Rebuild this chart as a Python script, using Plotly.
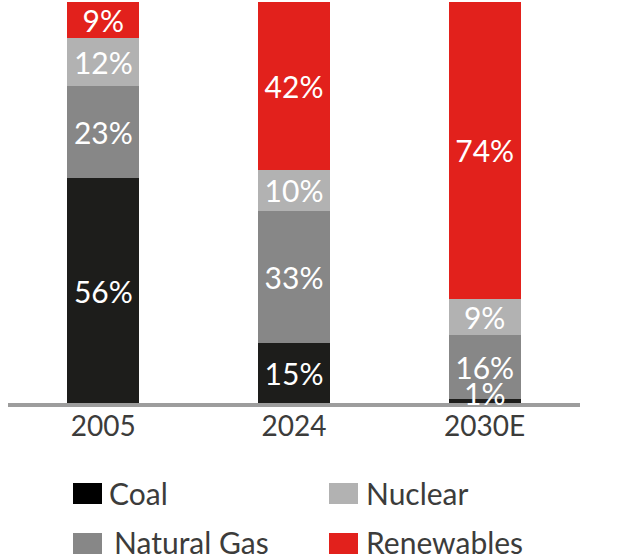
import plotly.graph_objects as go

categories = ["2005", "2024", "2030E"]
series_names = ["Coal", "Natural Gas", "Nuclear", "Renewables"]
coal = [56, 15, 1]
natural_gas = [23, 33, 16]
nuclear = [12, 10, 9]
renewables = [9, 42, 74]

colors = {"Coal": "#1d1d1b", "Natural Gas": "#878787", "Nuclear": "#b2b2b2", "Renewables": "#e2211c"}
legend_colors = {"Coal": "#000000", "Natural Gas": "#878787", "Nuclear": "#b2b2b2", "Renewables": "#e2211c"}
values = {"Coal": coal, "Natural Gas": natural_gas, "Nuclear": nuclear, "Renewables": renewables}

FONT = "Lato"
fig = go.Figure()
small_labels = []
for name in series_names:
    vals = values[name]
    texts = []
    for c, v in zip(categories, vals):
        if v < 5:
            texts.append("")
            small_labels.append((c, v))
        else:
            texts.append(f"{v}%")
    fig.add_trace(go.Bar(
        x=categories, y=vals, name=name,
        marker=dict(color=colors[name], line=dict(width=0)),
        text=texts, textposition="inside", insidetextanchor="middle",
        textangle=0, constraintext="none",
        textfont=dict(family=FONT, size=30, color="white"),
        width=0.377, showlegend=False, hoverinfo="skip",
    ))

for c, v in small_labels:
    fig.add_annotation(x=c, y=v, text=f"{v}%", showarrow=False,
                       yanchor="middle", yshift=6,
                       font=dict(family=FONT, size=30, color="white"))

# custom legend (paper coordinates)
plot_l, plot_r, plot_t, plot_b = 8, 580, 2, 403
W, H = plot_r - plot_l, plot_b - plot_t
def px(x):
    return (x - plot_l) / W
def py(y):
    return (plot_b - y) / H

legend_layout = [
    ("Coal", 73, 483, 107, 10),
    ("Nuclear", 329, 483, 364, 10),
    ("Natural Gas", 73, 533, 112, 9),
    ("Renewables", 329, 533, 364, 9),
]
for name, sx, sy, tx, toff in legend_layout:
    fig.add_shape(type="rect", xref="paper", yref="paper",
                  x0=px(sx), x1=px(sx + 29), y0=py(sy), y1=py(sy + 21),
                  fillcolor=legend_colors[name], line=dict(width=0))
    fig.add_annotation(xref="paper", yref="paper", x=px(tx), y=py(sy + toff),
                       text=name, showarrow=False, xanchor="left", yanchor="middle",
                       font=dict(family=FONT, size=30, color="#3c3c3b"))

fig.update_layout(
    width=626, height=558,
    margin=dict(l=plot_l, r=626 - plot_r, t=plot_t, b=558 - plot_b),
    barmode="stack",
    plot_bgcolor="white", paper_bgcolor="white",
    showlegend=False,
    font=dict(family=FONT, color="#3c3c3b"),
)
fig.update_xaxes(showline=True, linecolor="#9d9d9d", linewidth=4, ticks="",
                 ticklabelstandoff=-5,
                 tickfont=dict(family=FONT, size=28, color="#3c3c3b"),
                 showgrid=False, zeroline=False)
fig.update_yaxes(range=[0, 100], visible=False, showgrid=False, zeroline=False)

fig.write_html("out.html", config={"displayModeBar": False},
               post_script="document.body.style.margin='0px';document.body.style.overflow='hidden';")
